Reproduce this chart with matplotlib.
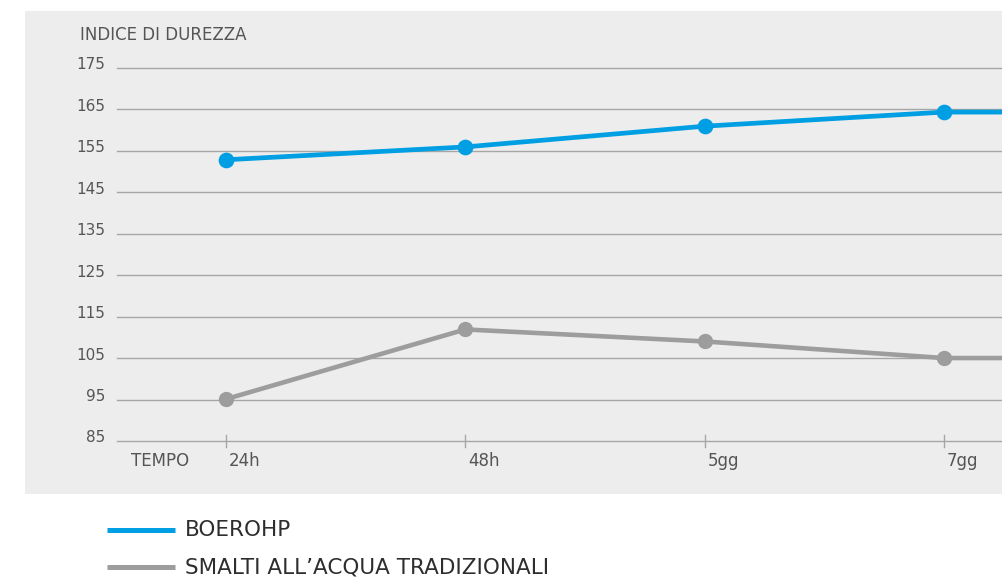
import matplotlib
matplotlib.use("Agg")
import matplotlib.pyplot as plt
from matplotlib.patches import Rectangle
from matplotlib.lines import Line2D
import matplotlib.transforms as mtransforms

# ---- data ----
categories = ["24h", "48h", "5gg", "7gg", ""]
boerohp = [152.8, 155.9, 160.9, 164.3, 164.3]
smalti = [95.1, 111.9, 109.0, 105.0, 105.0]
y_ticks = [85, 95, 105, 115, 125, 135, 145, 155, 165, 175]
series_names = ["BOEROHP", "SMALTI ALL\u2019ACQUA TRADIZIONALI"]
y_title = "INDICE DI DUREZZA"
x_title = "TEMPO"

BLUE = "#009FE3"
GRAY = "#9D9D9D"
BG = "#EDEDED"
GRID = "#A6A6A6"
TXT = "#555555"
FONT = "DejaVu Sans"

W, H = 1002, 578
fig = plt.figure(figsize=(W / 100, H / 100), dpi=100)
fig.patch.set_facecolor("white")

# background panel
fig.patches.append(Rectangle((25 / W, 1 - 494 / H), (W - 25) / W, (494 - 11) / H,
                             transform=fig.transFigure, facecolor=BG, edgecolor="none", zorder=-5))

ax_left = 117 / W
ax_bottom = 1 - 441 / H
ax_top = 1 - 67.7 / H
ax = fig.add_axes([ax_left, ax_bottom, 1 - ax_left, ax_top - ax_bottom])
ax.set_zorder(2)
ax.set_facecolor("none")
for s in ax.spines.values():
    s.set_visible(False)

x = list(range(len(categories)))
x0 = -109 / 239.3
x1 = 3 + 58 / 239.3
ax.set_xlim(x0, x1)
ax.set_ylim(y_ticks[0], y_ticks[-1])
ax.set_xticks([])
ax.set_yticks([])

for v in y_ticks:
    ax.axhline(v, color=GRID, lw=1.0, zorder=1, clip_on=False)

# small x tick marks
for xi in x[:4]:
    ax.plot([xi, xi], [y_ticks[0] - 1.4, y_ticks[0] + 1.4], color=GRID, lw=1.0, zorder=1, clip_on=False)

ax.plot(x, smalti, color=GRAY, lw=3.3, marker="o", ms=10, zorder=3, solid_capstyle="butt")
ax.plot(x, boerohp, color=BLUE, lw=3.4, marker="o", ms=10.3, zorder=4, solid_capstyle="butt")

FS = 12
# y labels
for v in y_ticks:
    tr = ax.get_yaxis_transform() + mtransforms.ScaledTranslation(-12 / 100, 3 / 100, fig.dpi_scale_trans)
    ax.text(0, v, str(v), transform=tr, ha="right", va="center", fontsize=11,
            color=TXT, family=FONT)

# x labels
for xi, lab in zip(x[:4], categories[:4]):
    tr = ax.transData + mtransforms.ScaledTranslation(3 / 100, -20 / 100, fig.dpi_scale_trans)
    ax.text(xi, y_ticks[0], lab, transform=tr, ha="left", va="center", fontsize=FS,
            color=TXT, family=FONT)

fig.text(131 / W, 1 - 461 / H, x_title, ha="left", va="center", fontsize=FS, color=TXT, family=FONT)
fig.text(80 / W, 1 - 35 / H, y_title, ha="left", va="center", fontsize=FS, color=TXT, family=FONT)

# legend
for (yy, col, name) in [(530, BLUE, series_names[0]), (567, GRAY, series_names[1])]:
    fig.lines.append(Line2D([107 / W, 175 / W], [1 - yy / H, 1 - yy / H], transform=fig.transFigure,
                            color=col, lw=3.6, solid_capstyle="butt"))
    fig.text(185 / W, 1 - yy / H, name, ha="left", va="center", fontsize=15.5, color="#2E2E2E",
             family=FONT)

fig.savefig("out.png", dpi=100)
